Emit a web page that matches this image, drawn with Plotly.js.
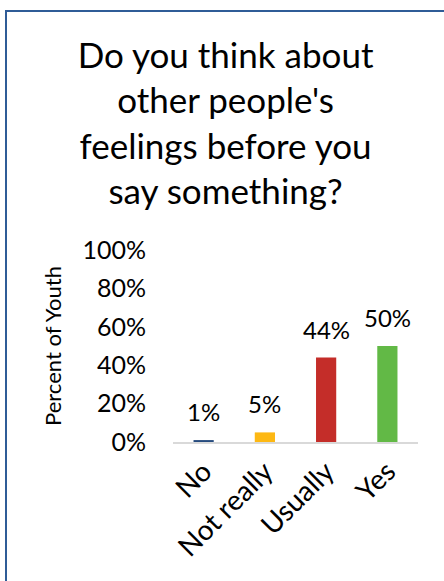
<!DOCTYPE html>
<html>
<head>
<meta charset="utf-8">
<script src="https://cdn.plot.ly/plotly-3.0.1.min.js"></script>
<style>
html,body{margin:0;padding:0;background:#fff;}
#wrap{position:relative;width:444px;height:581px;overflow:hidden;}
#chart{position:absolute;left:0;top:0;width:444px;height:581px;}
#frame{position:absolute;left:5px;top:10px;width:460px;height:600px;border:2px solid #2f5c97;box-sizing:border-box;pointer-events:none;}
</style>
</head>
<body>
<div id="wrap">
<div id="chart"></div>
<div id="frame"></div>
</div>
<script>
const categories = ["No", "Not really", "Usually", "Yes"];
const values = [0.01, 0.05, 0.44, 0.50];
const valueLabels = ["1%", "5%", "44%", "50%"];
const barColors = ["#264b7e", "#fdb813", "#c42d29", "#62b946"];
const yTickVals = [0, 0.2, 0.4, 0.6, 0.8, 1.0];
const yTickText = ["0%", "20%", "40%", "60%", "80%", "100%"];
const titleText = "Do you think about<br>other people's<br>feelings before you<br>say something?";
const yTitle = "Percent of Youth";

const FONT = "Lato, 'Open Sans', sans-serif";

const trace = {
  type: "bar",
  x: categories,
  y: values,
  marker: {color: barColors},
  width: 0.33,
  hoverinfo: "none"
};

const annotations = categories.map((c, i) => ({
  x: c, y: values[i], xref: "x", yref: "y",
  text: valueLabels[i], showarrow: false,
  yanchor: "bottom", yshift: 12,
  font: {family: FONT, size: 24, color: "#000"}
}));

const layout = {
  width: 444, height: 581,
  margin: {l: 173, r: 26, t: 250, b: 139},
  paper_bgcolor: "#fff", plot_bgcolor: "#fff",
  showlegend: false,
  title: {
    text: titleText,
    font: {family: FONT, size: 35, color: "#000"},
    x: 0.508, xanchor: "center",
    y: 0.883, yanchor: "top"
  },
  xaxis: {
    type: "category",
    tickangle: -45,
    tickfont: {family: FONT, size: 28, color: "#000"},
    showline: true, linecolor: "#d9d9d9", linewidth: 2,
    ticks: "", showgrid: false, zeroline: false,
    fixedrange: true
  },
  yaxis: {
    range: [0, 1],
    tickvals: yTickVals, ticktext: yTickText,
    tickfont: {family: FONT, size: 25, color: "#000"},
    showline: false, showgrid: false, zeroline: false, ticks: "",
    ticklabelstandoff: 26,
    title: {text: yTitle, font: {family: FONT, size: 22, color: "#000"}, standoff: 14},
    fixedrange: true
  },
  annotations: annotations
};

Plotly.newPlot("chart", [trace], layout, {displayModeBar: false, staticPlot: true});
</script>
</body>
</html>
